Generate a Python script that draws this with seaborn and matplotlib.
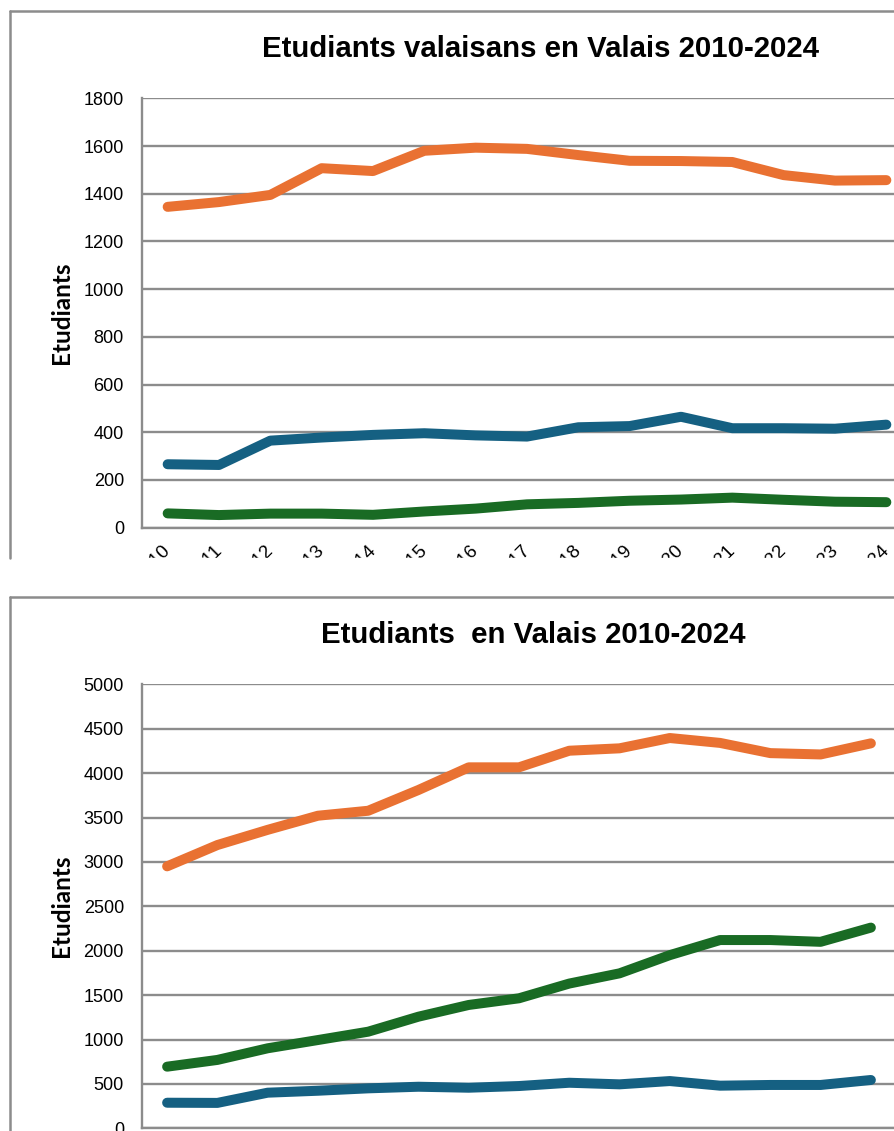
"""
Etudiants en Valais 2010-2024 — two Excel-style line charts, cropped screenshot look.
"""

import numpy as np
import pandas as pd
import matplotlib
matplotlib.use("Agg")
import matplotlib.pyplot as plt
from matplotlib.lines import Line2D
from matplotlib.patches import Rectangle
import seaborn as sns

# ── Data ───────────────────────────────────────────────────────────────────────
YEARS       = list(range(2010, 2025))
YEAR_LABELS = [str(y) for y in YEARS]
SERIES      = ["Série 1", "Série 2", "Série 3"]

# top chart: étudiants valaisans
VS_ORANGE = [1345, 1365, 1395, 1507, 1495, 1580, 1593, 1588, 1562, 1538, 1537, 1533, 1478, 1455, 1457]
VS_BLUE   = [266, 263, 365, 378, 389, 396, 387, 382, 421, 426, 465, 417, 417, 415, 432]
VS_GREEN  = [60, 53, 59, 59, 54, 68, 80, 98, 104, 113, 118, 126, 117, 109, 107]

# bottom chart: tous les étudiants
ALL_ORANGE = [2950, 3190, 3361, 3520, 3576, 3810, 4065, 4065, 4252, 4279, 4395, 4340, 4225, 4210, 4335]
ALL_BLUE   = [288, 286, 401, 423, 450, 468, 457, 476, 513, 495, 532, 480, 488, 488, 544]
ALL_GREEN  = [694, 770, 901, 994, 1088, 1257, 1389, 1464, 1630, 1745, 1950, 2120, 2120, 2100, 2260]

# ── Style ──────────────────────────────────────────────────────────────────────
W, H    = 895, 1131
DPI     = 100
PALETTE = {"Série 1": "#E97132", "Série 2": "#156082", "Série 3": "#196B24"}
GRID    = "#8c8c8c"
FRAME   = "#8c8c8c"

sns.set_style("white")
plt.rcParams["font.family"] = ["Liberation Sans", "DejaVu Sans"]
plt.rcParams["text.color"] = "black"
plt.rcParams["xtick.labelcolor"] = "black"
plt.rcParams["ytick.labelcolor"] = "black"


def px_rect(left, top, right, bottom):
    """pixel box (from top-left) -> figure fraction rect"""
    return [left / W, 1 - bottom / H, (right - left) / W, (bottom - top) / H]


def draw_panel(ax, orange, blue, green, ymax, ystep):
    df = pd.DataFrame({
        "annee":     YEARS * 3,
        "etudiants": orange + blue + green,
        "serie":     [s for s in SERIES for _ in YEARS],
    })
    sns.lineplot(data=df, x="annee", y="etudiants", hue="serie",
                 palette=PALETTE, estimator=None, linewidth=7.2,
                 legend=False, ax=ax)
    for line in ax.lines:
        line.set_solid_capstyle("round")
        line.set_solid_joinstyle("round")

    ax.set_xlim(2009.5, 2024.5)
    ax.set_ylim(0, ymax)
    ax.set_yticks(np.arange(0, ymax + 1, ystep))
    ax.yaxis.grid(True, color=GRID, lw=1.7)
    ax.xaxis.grid(False)
    ax.set_axisbelow(True)

    ax.set_xticks(YEARS)
    ax.set_xticklabels(YEAR_LABELS, rotation=45, ha="right", va="center",
                       rotation_mode="anchor")
    ax.set_xticks(np.arange(2009.5, 2025, 1), minor=True)
    ax.tick_params(axis="x", which="major", length=0, pad=14.5, labelsize=13.5)
    ax.tick_params(axis="x", which="minor", length=5, width=1.7, color=GRID,
                   direction="out")
    ax.tick_params(axis="y", length=5, width=1.7, color=GRID, pad=8,
                   labelsize=13, direction="out")

    for side in ("top", "right"):
        ax.spines[side].set_visible(False)
    for side in ("left", "bottom"):
        ax.spines[side].set_color(GRID)
        ax.spines[side].set_linewidth(1.7)
    ax.set_xlabel("")
    ax.set_ylabel("")


fig = plt.figure(figsize=(W / DPI, H / DPI), dpi=DPI)

ax_top = fig.add_axes(px_rect(142, 98.3, 912, 527.7))
draw_panel(ax_top, VS_ORANGE, VS_BLUE, VS_GREEN, 1800, 200)

ax_bot = fig.add_axes(px_rect(142, 684.3, 896, 1128.3))
draw_panel(ax_bot, ALL_ORANGE, ALL_BLUE, ALL_GREEN, 5000, 500)

# ── Titles & axis labels ───────────────────────────────────────────────────────
fig.text(540 / W, 1 - 49 / H, "Etudiants valaisans en Valais 2010-2024",
         ha="center", va="center", fontsize=21.2, fontweight="bold")
fig.text(533 / W, 1 - 635 / H, "Etudiants  en Valais 2010-2024",
         ha="center", va="center", fontsize=21.2, fontweight="bold")
for yc in (313, 906):
    fig.text(62 / W, 1 - yc / H, "Etudiants", rotation=90,
             ha="center", va="center", fontsize=17.5, fontweight="bold",
             family=["Lato", "Liberation Sans"])

# ── Screenshot crop between the two charts + chart frames ──────────────────────
fig.add_artist(Rectangle((0, 1 - 597 / H), 1, (597 - 558) / H,
                         transform=fig.transFigure, color="white", zorder=5))
for xs, ys in [
    ([10, 10], [11, 558]), ([10, W], [11, 11]),       # top frame
    ([10, 10], [597, H]), ([10, W], [597, 597]),      # bottom frame
]:
    fig.add_artist(Line2D([x / W for x in xs], [1 - y / H for y in ys],
                          transform=fig.transFigure, color=FRAME, lw=1.8,
                          zorder=6))

fig.savefig("out.png", dpi=DPI)
plt.close(fig)
